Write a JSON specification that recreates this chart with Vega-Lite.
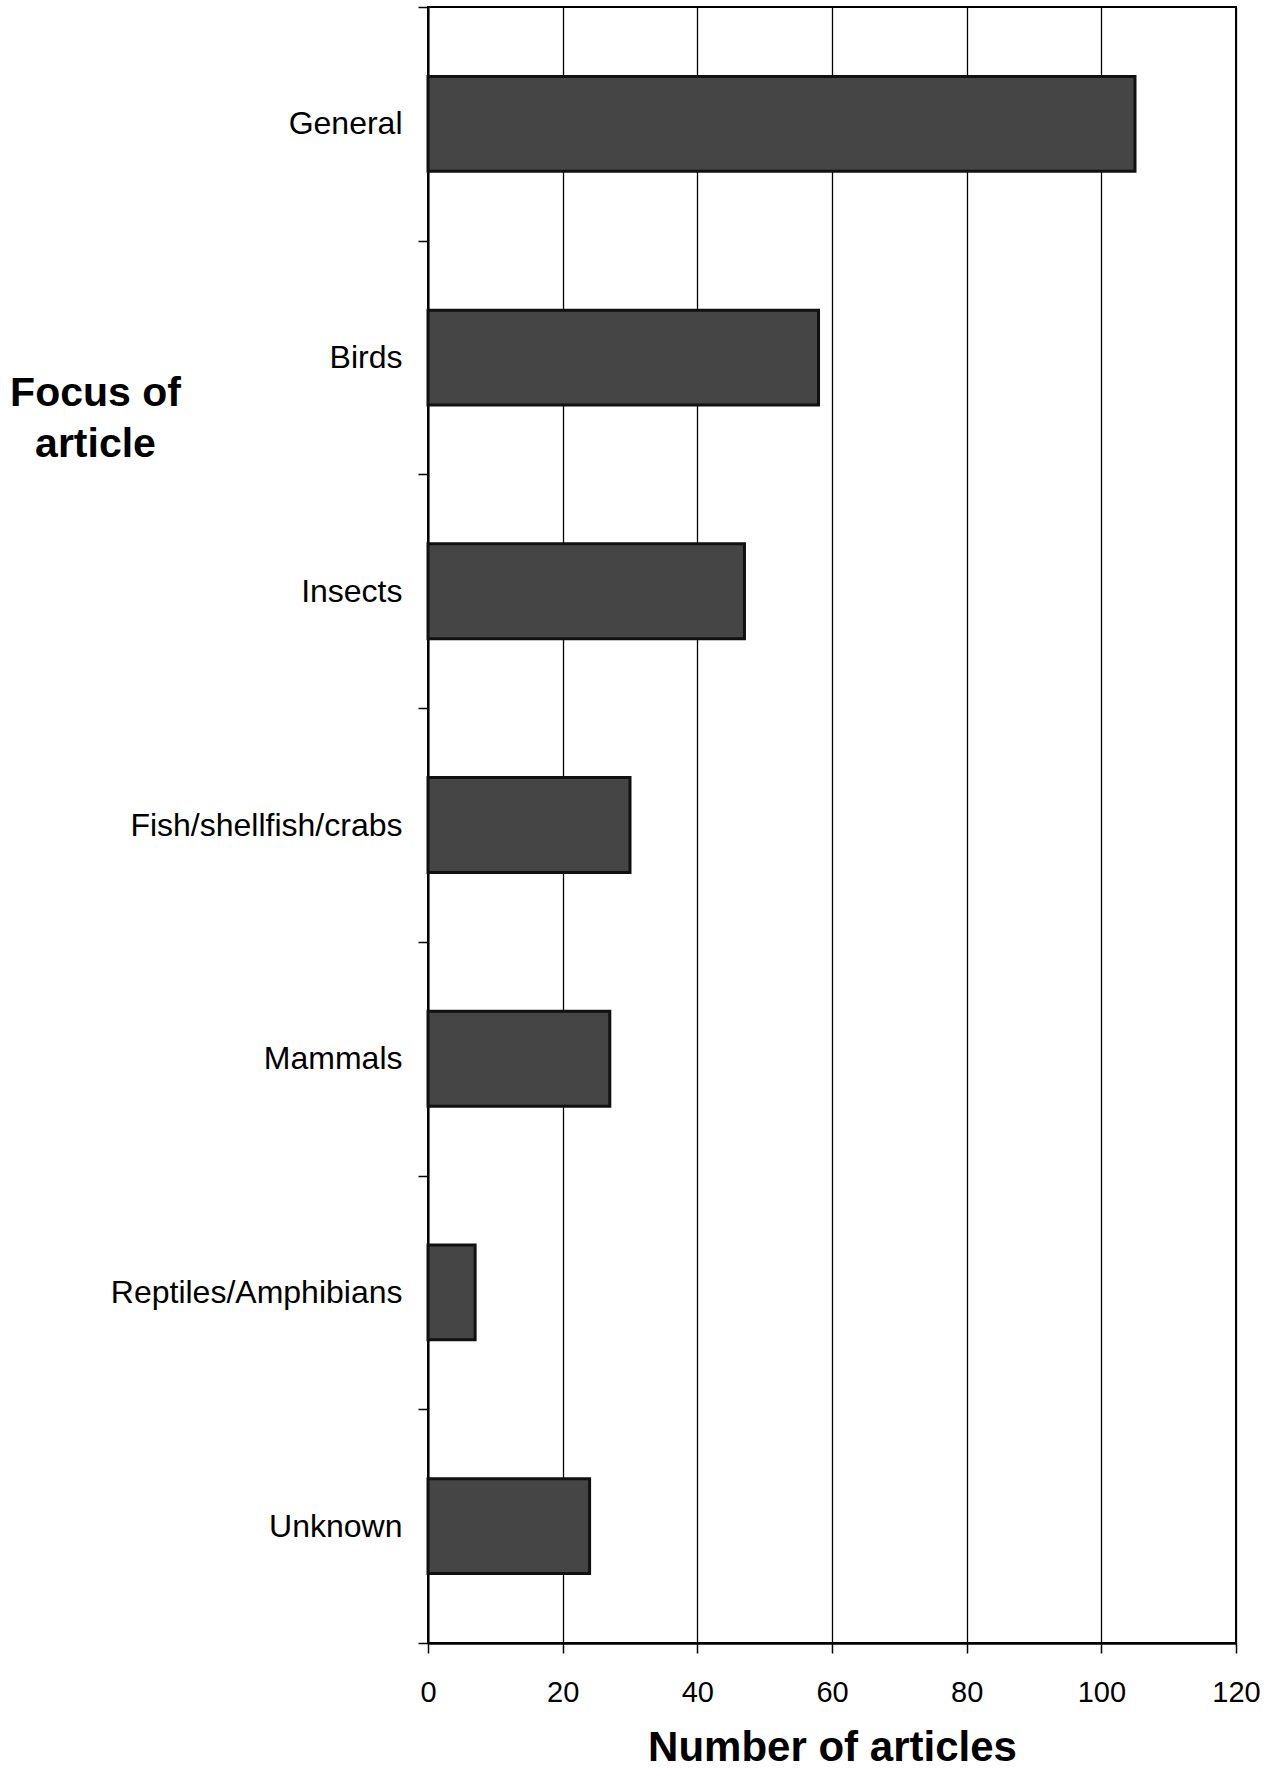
{
  "$schema": "https://vega.github.io/schema/vega-lite/v6.json",
  "autosize": "none",
  "width": 808,
  "height": 1636,
  "padding": {"left": 428, "top": 7, "right": 45, "bottom": 127},
  "background": "white",
  "config": {
    "view": {"stroke": "black", "strokeWidth": 2},
    "font": "Liberation Sans"
  },
  "data": {
    "values": [
      {"focus": "General", "articles": 105},
      {"focus": "Birds", "articles": 58},
      {"focus": "Insects", "articles": 47},
      {"focus": "Fish/shellfish/crabs", "articles": 30},
      {"focus": "Mammals", "articles": 27},
      {"focus": "Reptiles/Amphibians", "articles": 7},
      {"focus": "Unknown", "articles": 24}
    ]
  },
  "mark": {"type": "bar", "fill": "#454545", "stroke": "#111111", "strokeWidth": 3, "height": {"band": 0.406}},
  "encoding": {
    "y": {
      "field": "focus",
      "type": "nominal",
      "sort": null,
      "scale": {"paddingInner": 0, "paddingOuter": 0},
      "axis": {
        "title": ["Focus of", "article"],
        "titleFont": "Liberation Sans",
        "titleFontSize": 41,
        "titleFontWeight": "bold",
        "titleColor": "black",
        "titleAngle": 0,
        "titleAlign": "center",
        "titleBaseline": "alphabetic",
        "titleX": -333,
        "titleY": 398,
        "titleLineHeight": 51,
        "labelFont": "Liberation Sans",
        "labelFontSize": 32,
        "labelColor": "black",
        "labelPadding": 16,
        "labelLimit": 400,
        "tickBand": "extent",
        "tickSize": 10,
        "tickColor": "black",
        "tickWidth": 1.5,
        "domainColor": "black",
        "domainWidth": 2,
        "grid": false
      }
    },
    "x": {
      "field": "articles",
      "type": "quantitative",
      "scale": {"domain": [0, 120], "nice": false},
      "axis": {
        "title": "Number of articles",
        "titleFont": "Liberation Sans",
        "titleFontSize": 42,
        "titleFontWeight": "bold",
        "titleColor": "black",
        "titleBaseline": "alphabetic",
        "titleY": 117,
        "values": [0, 20, 40, 60, 80, 100, 120],
        "labelFont": "Liberation Sans",
        "labelFontSize": 29,
        "labelColor": "black",
        "labelPadding": 25,
        "labelFlush": false,
        "tickSize": 10,
        "tickColor": "black",
        "tickWidth": 1.5,
        "domainColor": "black",
        "domainWidth": 2.5,
        "grid": true,
        "gridColor": "black",
        "gridWidth": 1.3,
        "gridOpacity": 1
      }
    }
  }
}
